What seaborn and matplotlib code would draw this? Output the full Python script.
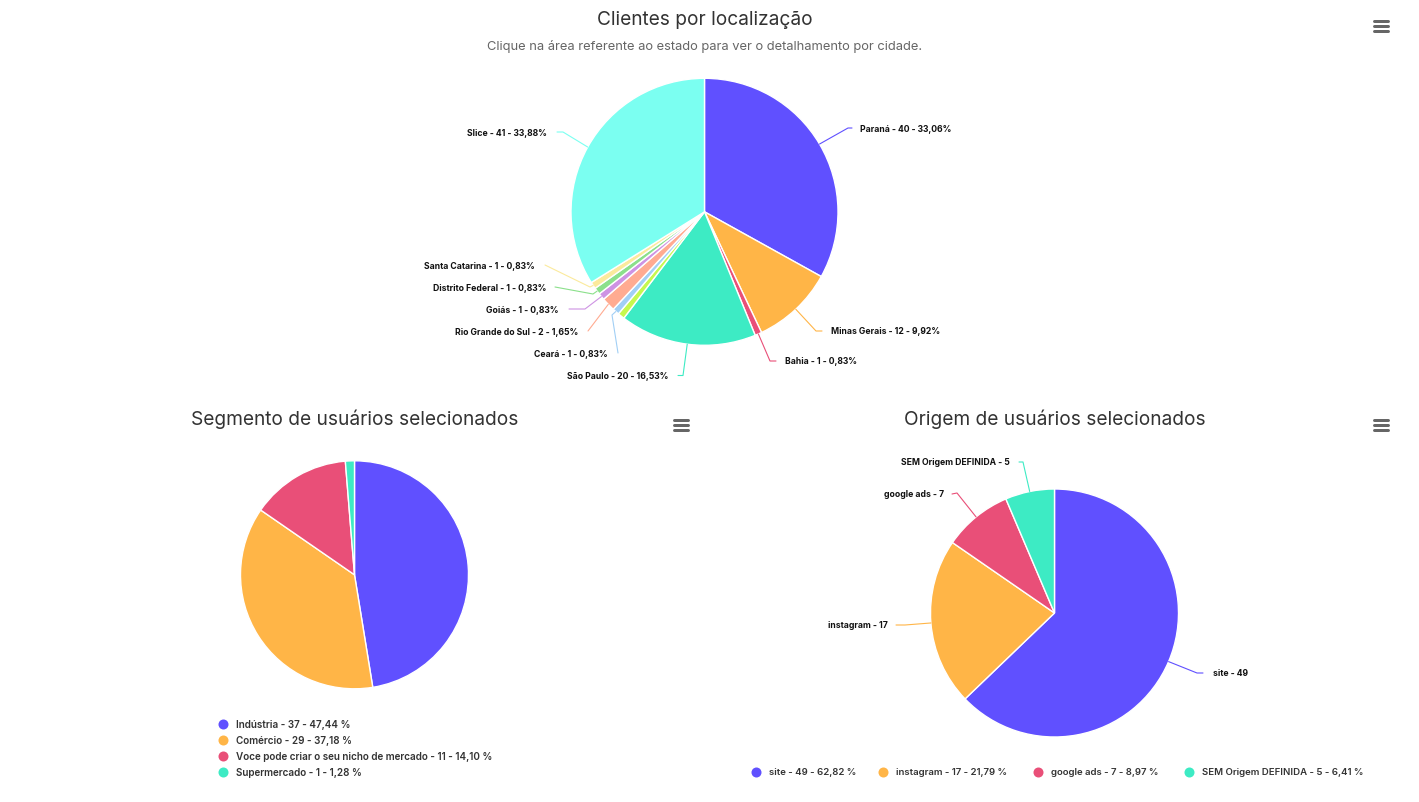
import numpy as np
import matplotlib
matplotlib.use("Agg")
import matplotlib.pyplot as plt
import seaborn as sns

# ---------- data ----------
loc_names = ["Paraná", "Minas Gerais", "Bahia", "São Paulo", "Alagoas", "Ceará",
             "Rio Grande do Sul", "Goiás", "Distrito Federal", "Santa Catarina", "Slice"]
loc_values = [40, 12, 1, 20, 1, 1, 2, 1, 1, 1, 41]
loc_pct = ["33,06", "9,92", "0,83", "16,53", "0,83", "0,83", "1,65", "0,83", "0,83", "0,83", "33,88"]

seg_names = ["Indústria", "Comércio", "Voce pode criar o seu nicho de mercado", "Supermercado"]
seg_values = [37, 29, 11, 1]
seg_pct = ["47,44", "37,18", "14,10", "1,28"]

ori_names = ["site", "instagram", "google ads", "SEM Origem DEFINIDA"]
ori_values = [49, 17, 7, 5]
ori_pct = ["62,82", "21,79", "8,97", "6,41"]

# ---------- style ----------
loc_colors = ["#6050FF", "#FFB547", "#E94F78", "#3DEBC4", "#C6F84E", "#A1CFF5",
              "#FFAB91", "#CE93E3", "#8BE08B", "#FBEA9C", "#7BFFF1"]
W, H = 1419, 803
sns.set_theme(style="white")
plt.rcParams["font.family"] = ["Inter", "DejaVu Sans"]
palette = sns.color_palette(loc_colors)
PX = 0.72

fig = plt.figure(figsize=(W / 100, H / 100), dpi=100, facecolor="white")
ov = fig.add_axes([0, 0, 1, 1], zorder=5)
ov.set_xlim(0, W)
ov.set_ylim(H - 1, -1)
ov.axis("off")
ov.patch.set_alpha(0)


def pie(values, cx, cy, r, colors):
    ax = fig.add_axes([(cx - r) / W, 1 - (cy + 1 + r) / H, 2 * r / W, 2 * r / H])
    ax.pie(values, colors=colors, startangle=90, counterclock=False, radius=1,
           wedgeprops=dict(edgecolor="white", linewidth=1.0))
    ax.set_xlim(-1, 1)
    ax.set_ylim(-1, 1)
    return ax


def connect(values, cx, cy, r, colors, labels, layout):
    """layout[i] = (text x, text y, align, path points after the wedge edge)"""
    total = sum(values)
    cum = 0
    for i, v in enumerate(values):
        mid = (cum + v / 2) / total * 2 * np.pi
        cum += v
        if layout[i] is None:
            continue
        tx, ty, ha, pts = layout[i]
        ex, ey = cx + r * np.sin(mid), cy - r * np.cos(mid)
        xs = [ex] + [p[0] for p in pts]
        ys = [ey] + [p[1] for p in pts]
        ov.plot(xs, ys, color=colors[i], lw=0.8, solid_capstyle="round")
        ov.text(tx, ty, labels[i], ha=ha, va="center", fontsize=LABEL_FS,
                fontweight="bold", color="#111111")


LABEL_FS = 6.22
# ---------- top pie ----------
tc = (704.5, 211.8, 133.5)
pie(loc_values, *tc, palette)
loc_labels = [f"{n} - {v} - {p}%" for n, v, p in zip(loc_names, loc_values, loc_pct)]
loc_layout = [
    (860, 129, "left", [(848, 128), (852, 128)]),
    (831, 331, "left", [(816, 331), (822, 331)]),
    (785, 361, "left", [(770, 361), (776, 361)]),
    (668, 376, "right", [(683, 375.5), (678, 375.5)]),
    None,
    (608, 354, "right", [(612, 315), (618, 353)]),
    (578, 332, "right", [(588, 331)]),
    (558, 310, "right", [(585, 309), (569, 309)]),
    (546, 288, "right", [(593, 294), (555, 287)]),
    (535, 266, "right", [(590, 287), (545, 265)]),
    (547, 132, "right", [(563, 132), (557, 132)]),
]
connect(loc_values, *tc, palette, loc_labels, loc_layout)

# ---------- bottom left pie ----------
lc = (354.5, 574.8, 114)
pie(seg_values, *lc, palette[:4])

# ---------- bottom right pie ----------
rc = (1054.5, 613, 124)
pie(ori_values, *rc, palette[:4])
ori_labels = [f"{n} - {v}" for n, v in zip(ori_names, ori_values)]
ori_layout = [
    (1213, 673, "left", [(1197, 673), (1203, 673)]),
    (888, 625, "right", [(905, 625), (896, 625)]),
    (944, 494, "right", [(957, 493), (952, 494)]),
    (1010, 462, "right", [(1023, 462), (1019, 462)]),
]
connect(ori_values, *rc, palette[:4], ori_labels, ori_layout)

# ---------- titles ----------
TITLE_FS = 13.75
ov.text(705, 19, "Clientes por localização", ha="center", va="center", fontsize=TITLE_FS, color="#333333")
ov.text(705, 45.5, "Clique na área referente ao estado para ver o detalhamento por cidade.",
        ha="center", va="center", fontsize=9.3, color="#666666")
ov.text(355, 418.5, "Segmento de usuários selecionados", ha="center", va="center", fontsize=TITLE_FS, color="#333333")
ov.text(1055, 418.5, "Origem de usuários selecionados", ha="center", va="center", fontsize=TITLE_FS, color="#333333")

# ---------- legends ----------
for i, y in enumerate([724, 740, 756, 772]):
    ov.scatter([223], [y], s=52, color=palette[i], linewidths=0)
    ov.text(236, y, f"{seg_names[i]} - {seg_values[i]} - {seg_pct[i]} %", va="center",
            fontsize=7.15, fontweight="semibold", color="#333333")
for i, x in enumerate([756, 883, 1038, 1189]):
    ov.scatter([x], [772], s=52, color=palette[i], linewidths=0)
    ov.text(x + 13, 772, f"{ori_names[i]} - {ori_values[i]} - {ori_pct[i]} %", va="center",
            fontsize=6.92, fontweight="semibold", color="#333333")

# ---------- menu icons ----------
for x0, y0 in [(1373, 21), (673, 420), (1373, 420)]:
    for k in range(3):
        yy = y0 + k * 5
        ov.plot([x0 + 1, x0 + 15], [yy, yy], color="#666666", lw=3 * PX, solid_capstyle="round")

fig.savefig("out.png", dpi=100, facecolor="white")
